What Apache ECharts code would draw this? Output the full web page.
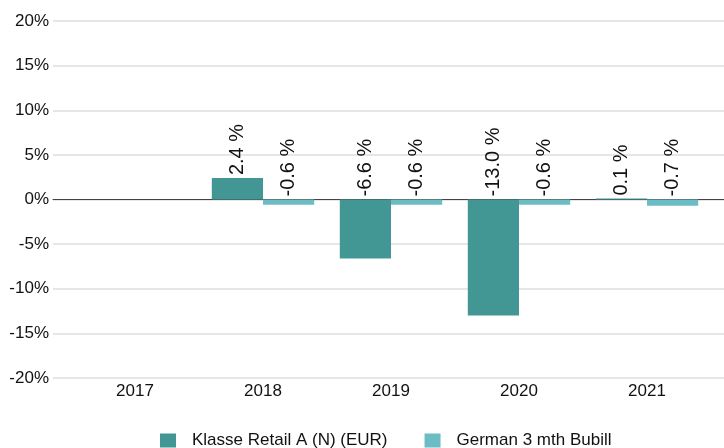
<!DOCTYPE html>
<html>
<head>
<meta charset="utf-8">
<script src="https://cdn.jsdelivr.net/npm/echarts@6/dist/echarts.min.js"></script>
<style>
  html, body { margin: 0; padding: 0; background: #fff; }
  #chart { width: 724px; height: 448px; }
</style>
</head>
<body>
<div id="chart"></div>
<script>
// data
const years = ['2017', '2018', '2019', '2020', '2021'];
const retailA = [null, 2.4, -6.6, -13.0, 0.1];
const bubill = [null, -0.6, -0.6, -0.6, -0.7];
const seriesNames = ['Klasse Retail A (N) (EUR)', 'German 3 mth Bubill'];

const chart = echarts.init(document.getElementById('chart'));

const barLabel = {
  show: true,
  position: 'top',
  rotate: 90,
  align: 'left',
  verticalAlign: 'middle',
  distance: 3,
  fontSize: 20,
  fontFamily: 'Liberation Sans, Arial, sans-serif',
  color: '#111',
  formatter: p => p.value.toFixed(1) + ' %'
};

const option = {
  animation: false,
  textStyle: { fontFamily: 'Liberation Sans, Arial, sans-serif' },
  legend: {
    data: seriesNames,
    left: 155,
    top: 427,
    icon: 'rect',
    itemWidth: 16,
    itemHeight: 14,
    itemGap: 37,
    textStyle: { fontSize: 17, color: '#111', padding: [0, 0, 0, 11] }
  },
  grid: [
    // full width grid: gridlines, y labels and the zero line
    { left: 53, right: 0, top: 21, bottom: 70 },
    // bars and year labels
    { left: 71, right: 13, top: 21, bottom: 70 }
  ],
  xAxis: [
    {
      gridIndex: 0,
      type: 'value',
      min: 0,
      max: 1,
      axisLine: { show: true, onZero: true, lineStyle: { color: '#444', width: 1 } },
      axisTick: { show: false },
      axisLabel: { show: false },
      splitLine: { show: false }
    },
    {
      gridIndex: 1,
      type: 'category',
      data: years,
      axisLine: { show: false, onZero: false },
      axisTick: { show: false },
      axisLabel: { fontSize: 17, color: '#111', margin: 5 }
    }
  ],
  yAxis: [
    {
      gridIndex: 0,
      type: 'value',
      min: -20,
      max: 20,
      interval: 5,
      axisLine: { show: false },
      axisTick: { show: false },
      axisLabel: { fontSize: 17, color: '#111', margin: 4, formatter: '{value}%' },
      splitLine: { lineStyle: { color: '#e6e6e6', width: 2 } }
    },
    {
      gridIndex: 1,
      type: 'value',
      min: -20,
      max: 20,
      interval: 5,
      show: false,
      splitLine: { show: false }
    }
  ],
  series: [
    {
      name: seriesNames[0],
      type: 'bar',
      xAxisIndex: 1,
      yAxisIndex: 1,
      data: retailA,
      barGap: 0,
      barCategoryGap: '20%',
      itemStyle: { color: '#429795' },
      label: barLabel
    },
    {
      name: seriesNames[1],
      type: 'bar',
      xAxisIndex: 1,
      yAxisIndex: 1,
      data: bubill,
      barGap: 0,
      barCategoryGap: '20%',
      itemStyle: { color: '#6cbcc4' },
      label: barLabel
    }
  ]
};

chart.setOption(option);
</script>
</body>
</html>
